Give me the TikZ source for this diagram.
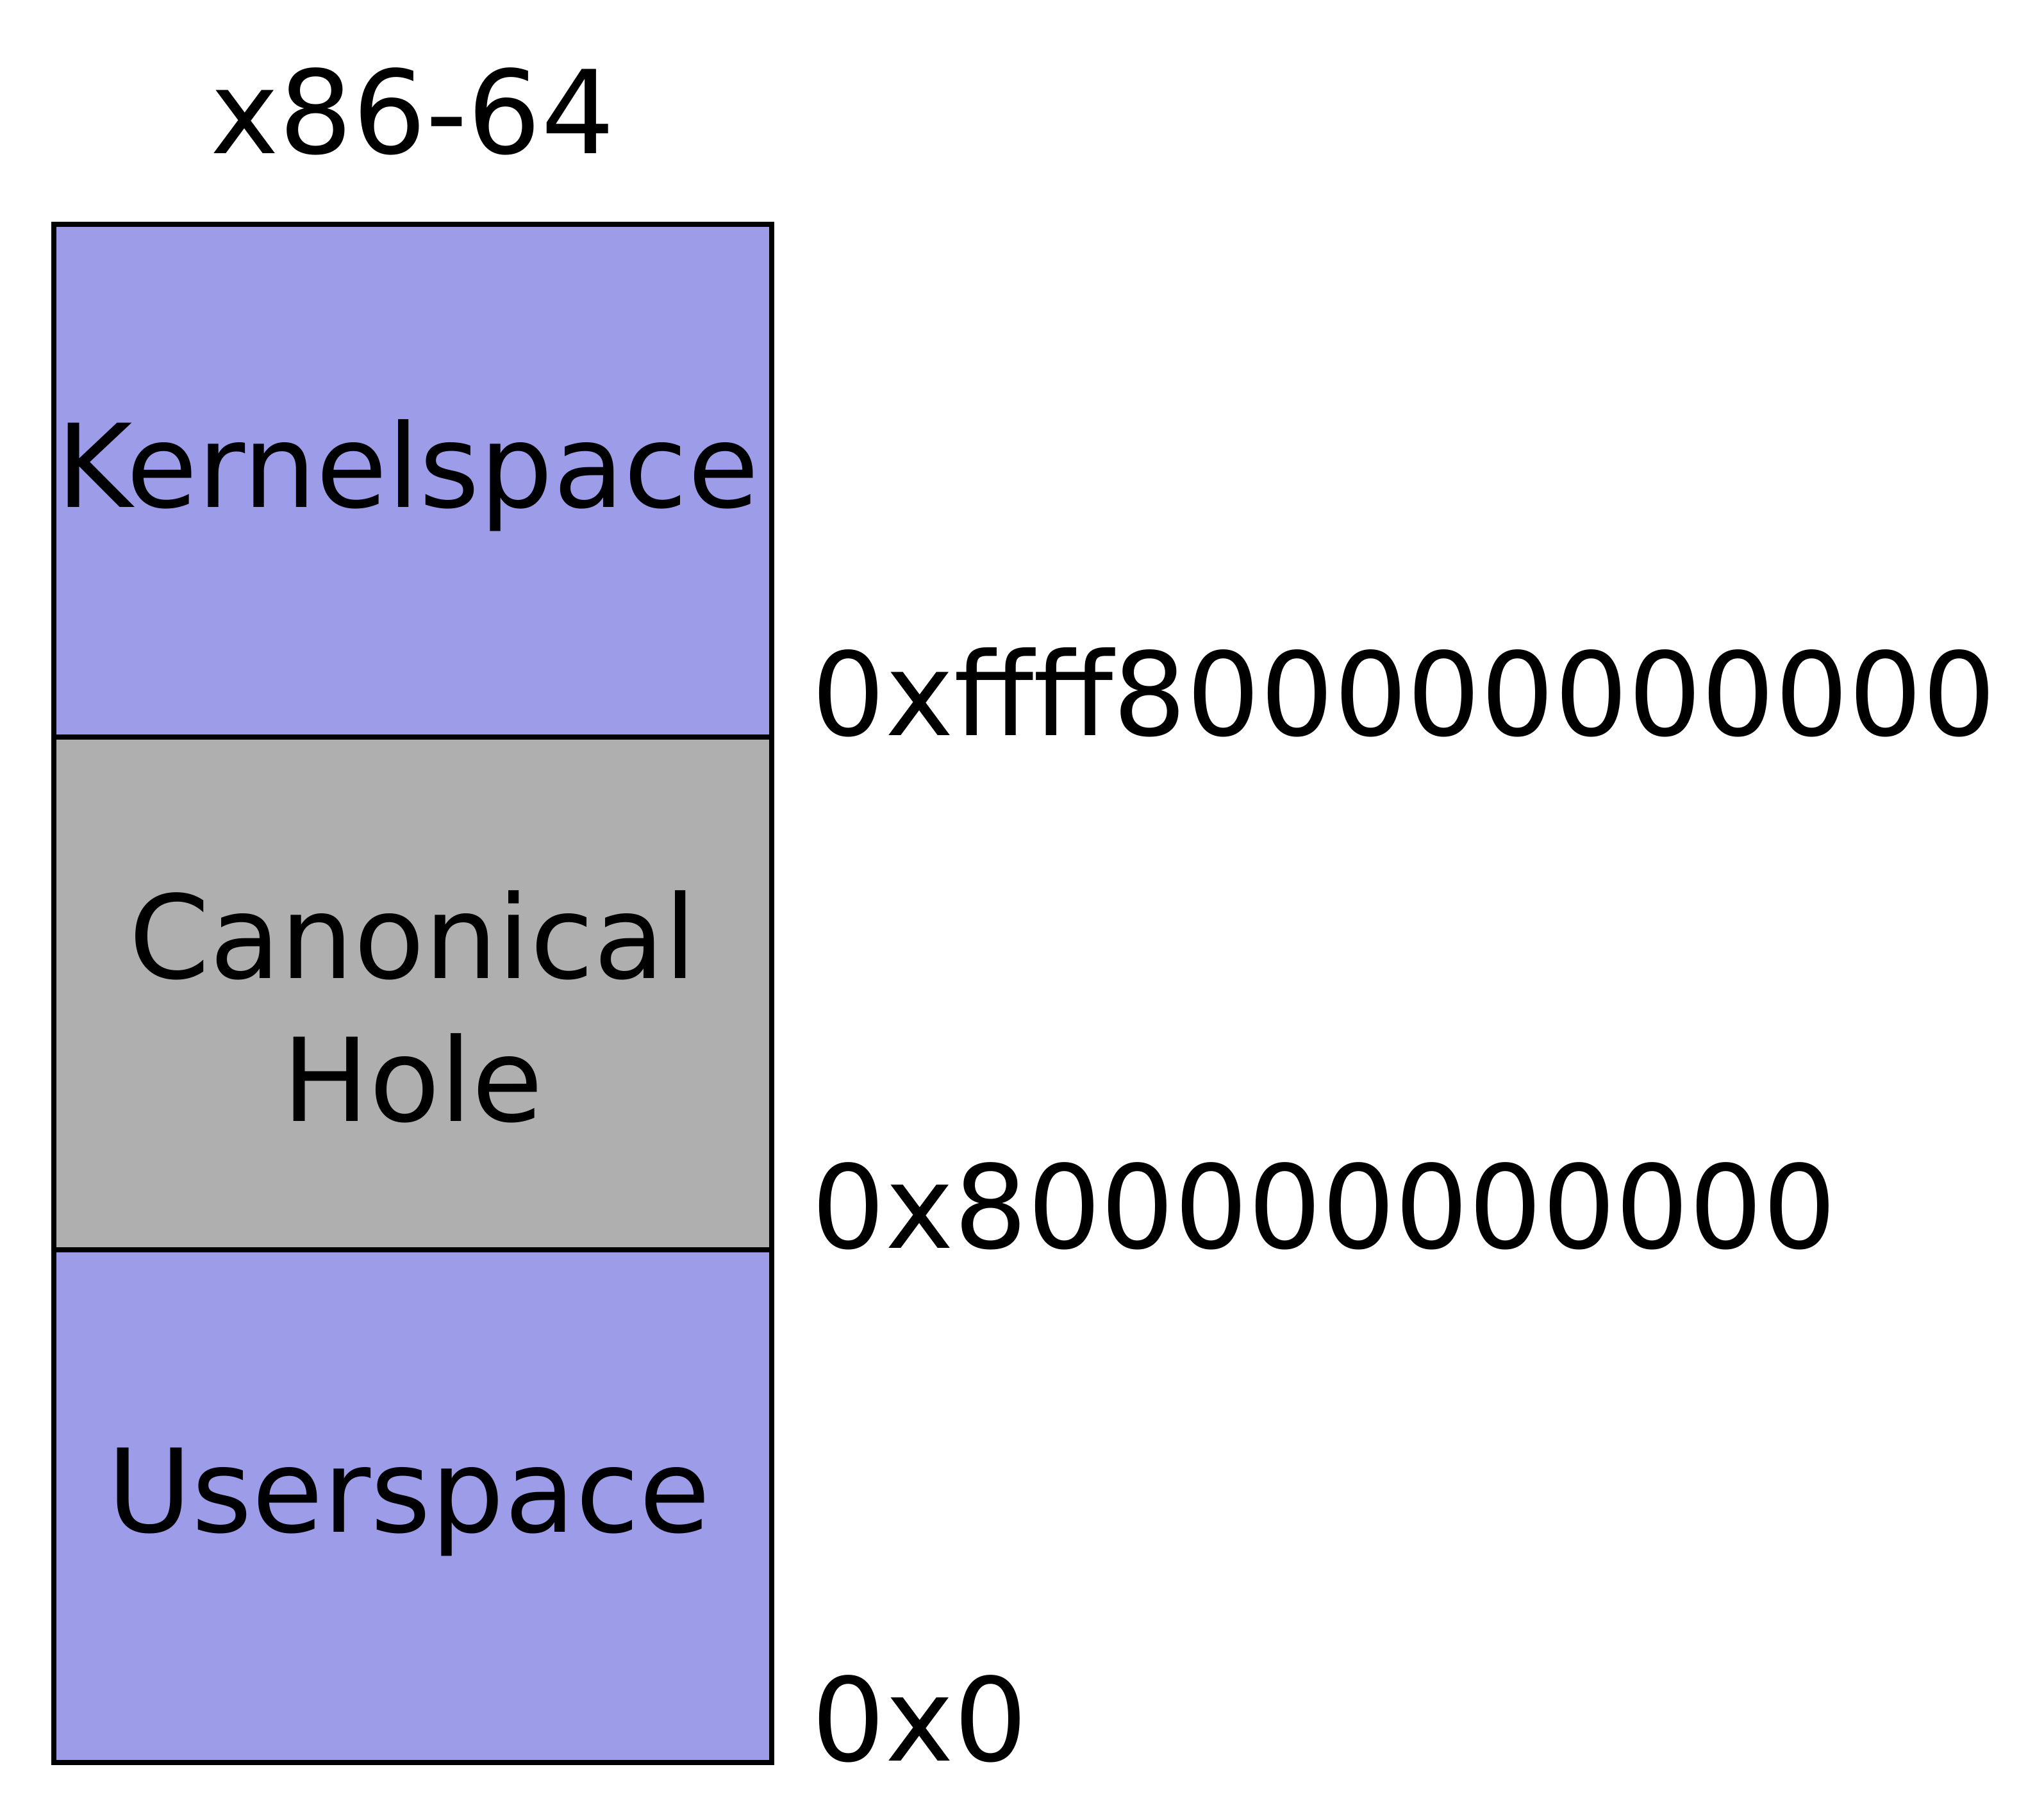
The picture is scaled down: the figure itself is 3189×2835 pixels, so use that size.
\documentclass[tikz,border=0pt]{standalone}
\usepackage{fontspec}
\setmainfont{DejaVu Sans}
\definecolor{spaceblue}{HTML}{9C9CE8}
\definecolor{holegray}{HTML}{AFAFAF}
\begin{document}
\begin{tikzpicture}[x=0.25pt,y=-0.25pt,
  region/.style={draw=black,line width=2pt},
  lbl/.style={anchor=base,inner sep=0pt,font=\fontsize{45.1}{55.75}\selectfont},
  addr/.style={anchor=base west,inner sep=0pt,font=\fontsize{45.1}{55.75}\selectfont}]
\useasboundingbox (0,0) rectangle (3189,2835);
% regions
\filldraw[region,fill=spaceblue] (84,350) rectangle (1204,1150);
\filldraw[region,fill=holegray] (84,1150) rectangle (1204,1950);
\filldraw[region,fill=spaceblue] (84,1950) rectangle (1204,2750);
% labels
\node[lbl] (title) at (644,240) {x86-64};
\node[lbl] (kernel) at (636,791) {Kernelspace};
\node[lbl] (canon) at (644,1526) {Canonical};
\node[lbl] (hole) at (644,1749) {Hole};
\node[lbl] (user) at (638,2390) {Userspace};
\node[addr] (a1) at (1266,1147) {0xffff800000000000};
\node[addr] (a2) at (1266,1947) {0x800000000000};
\node[addr] (a3) at (1266,2747) {0x0};
\end{tikzpicture}
\end{document}
